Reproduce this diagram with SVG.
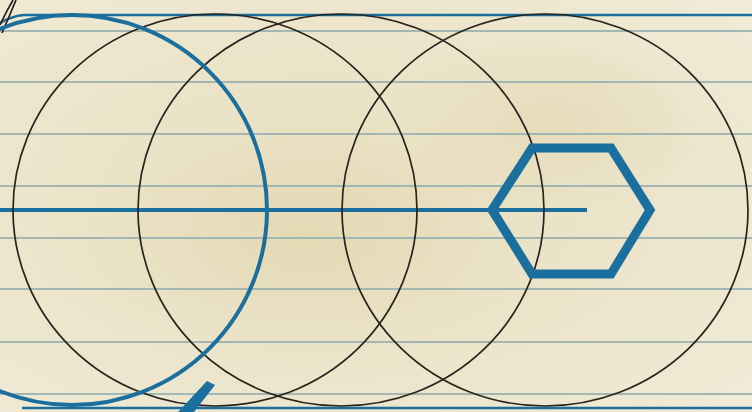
<svg xmlns="http://www.w3.org/2000/svg" width="752" height="412" viewBox="0 0 752 412">
<defs>
<radialGradient id="paper" cx="0.45" cy="0.5" r="0.7">
<stop offset="0" stop-color="#e8dfbf"/>
<stop offset="0.6" stop-color="#ece5cb"/>
<stop offset="1" stop-color="#f0ead6"/>
</radialGradient>
<radialGradient id="stain" cx="0.5" cy="0.5" r="0.5">
<stop offset="0" stop-color="#d9c998" stop-opacity="0.3"/>
<stop offset="1" stop-color="#d9c998" stop-opacity="0"/>
</radialGradient>
<style>
.rule{stroke:#a3b7b2;stroke-width:2;fill:none}
.ink{stroke:#2a221d;stroke-width:1.7;fill:none}
.blue{stroke:#1b6f9f;fill:none}
</style>
</defs>
<g id="paper-bg">
<rect width="752" height="412" fill="url(#paper)"/>
<ellipse cx="300" cy="240" rx="220" ry="120" fill="url(#stain)"/>
<ellipse cx="560" cy="120" rx="160" ry="90" fill="url(#stain)"/>
</g>
<g id="ruled-lines">
<line class="rule" x1="0" y1="31" x2="752" y2="31"/>
<line class="rule" x1="0" y1="82" x2="752" y2="82"/>
<line class="rule" x1="0" y1="134" x2="752" y2="134"/>
<line class="rule" x1="0" y1="186" x2="752" y2="186"/>
<line class="rule" x1="0" y1="238" x2="752" y2="238"/>
<line class="rule" x1="0" y1="289" x2="752" y2="289"/>
<line class="rule" x1="0" y1="342" x2="752" y2="342"/>
<line class="rule" x1="0" y1="394" x2="752" y2="394"/>
</g>
<g id="connectors">
<path class="blue" d="M0 23 Q12 16 24 15 L752 15" stroke-width="2.5"/>
<line class="blue" x1="22" y1="408" x2="752" y2="408" stroke-width="2.5"/>
<line class="blue" x1="0" y1="210" x2="587" y2="210" stroke-width="4"/>
<path class="ink" d="M13 0 Q6 12 0 25"/>
<path class="ink" d="M16 0 Q9 17 2 33"/>
</g>
<g id="circle-1"><ellipse class="ink" cx="215" cy="210" rx="202" ry="196"/></g>
<g id="circle-2"><ellipse class="ink" cx="341" cy="210" rx="203" ry="196"/></g>
<g id="circle-3"><ellipse class="ink" cx="545" cy="210" rx="203" ry="196"/></g>
<g id="blue-circle"><circle class="blue" cx="72" cy="210" r="195" stroke-width="4"/></g>
<g id="hexagon"><polygon class="blue" points="492,210 532,148 611,148 650,210 611,274 532,274" stroke-width="9" stroke-linejoin="miter"/></g>
<g id="pointer"><polygon points="207,381 215,385 194,412 178,412" fill="#1b6f9f"/></g>
</svg>
